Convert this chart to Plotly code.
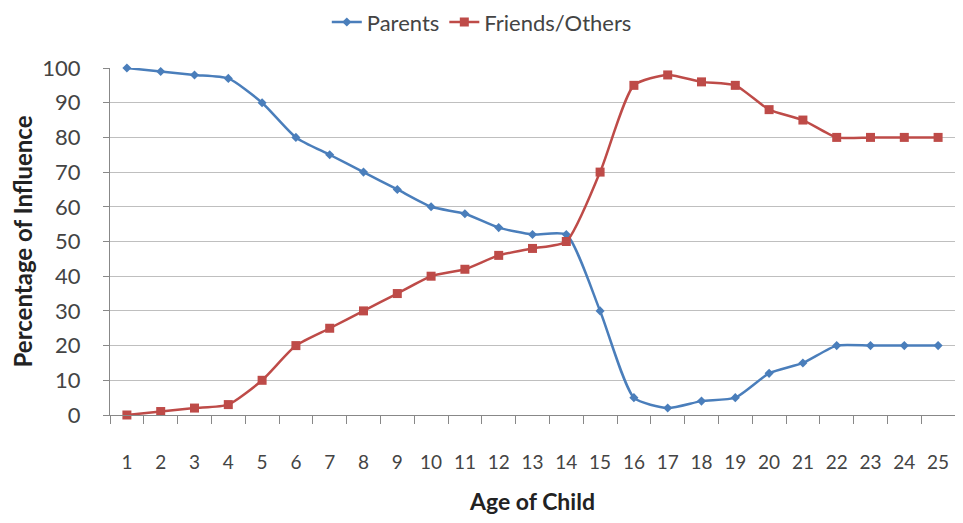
import plotly.graph_objects as go

ages = list(range(1, 26))
parents = [100, 99, 98, 97, 90, 80, 75, 70, 65, 60, 58, 54, 52, 52, 30, 5, 2, 4, 5, 12, 15, 20, 20, 20, 20]
friends = [0, 1, 2, 3, 10, 20, 25, 30, 35, 40, 42, 46, 48, 50, 70, 95, 98, 96, 95, 88, 85, 80, 80, 80, 80]
y_ticks = list(range(0, 101, 10))

fig = go.Figure()
fig.add_trace(go.Scatter(
    x=ages, y=parents, name="Parents", mode="lines+markers",
    line=dict(color="#4A7EBB", width=2.5, shape="spline", smoothing=0.6),
    marker=dict(symbol="diamond", size=7, color="#4A7EBB"),
    cliponaxis=False,
))
fig.add_trace(go.Scatter(
    x=ages, y=friends, name="Friends/Others", mode="lines+markers",
    line=dict(color="#BE4B48", width=2.5, shape="spline", smoothing=0.6),
    marker=dict(symbol="square", size=9, color="#BE4B48"),
    cliponaxis=False,
))

font_family = "Lato, 'Open Sans', sans-serif"
fig.update_layout(
    width=947, height=507,
    margin=dict(l=102, r=0, t=60, b=98),
    paper_bgcolor="white", plot_bgcolor="white",
    font=dict(family=font_family, size=20, color="#444444"),
    showlegend=True,
    legend=dict(orientation="h", x=0.44, xanchor="center", y=0.972, yanchor="middle",
                yref="container", font=dict(size=22, color="#444444"),
                tracegroupgap=0),
    xaxis=dict(
        range=[0.5, 25.5], tickvals=ages, ticktext=[str(a) for a in ages],
        tickfont=dict(size=19),
        showgrid=False, zeroline=False, showline=True, linecolor="#888888", linewidth=1,
        ticks="", ticklabelstandoff=30,
        minor=dict(tick0=0.5, dtick=1, ticks="outside", ticklen=8, tickcolor="#888888", showgrid=False),
        title=dict(text="<b>Age of Child</b>", font=dict(size=23, color="#222222"), standoff=26),
        fixedrange=True,
    ),
    yaxis=dict(
        range=[0, 100], tickvals=y_ticks,
        tickfont=dict(size=22),
        showgrid=True, gridcolor="#BFBFBF", gridwidth=1,
        zeroline=False, showline=True, linecolor="#888888", linewidth=1,
        ticks="outside", ticklen=6, tickcolor="#888888", ticklabelstandoff=18,
        title=dict(text="<b>Percentage of Influence</b>", font=dict(size=24, color="#222222"), standoff=4),
        fixedrange=True,
    ),
)
fig.write_html("out.html")
